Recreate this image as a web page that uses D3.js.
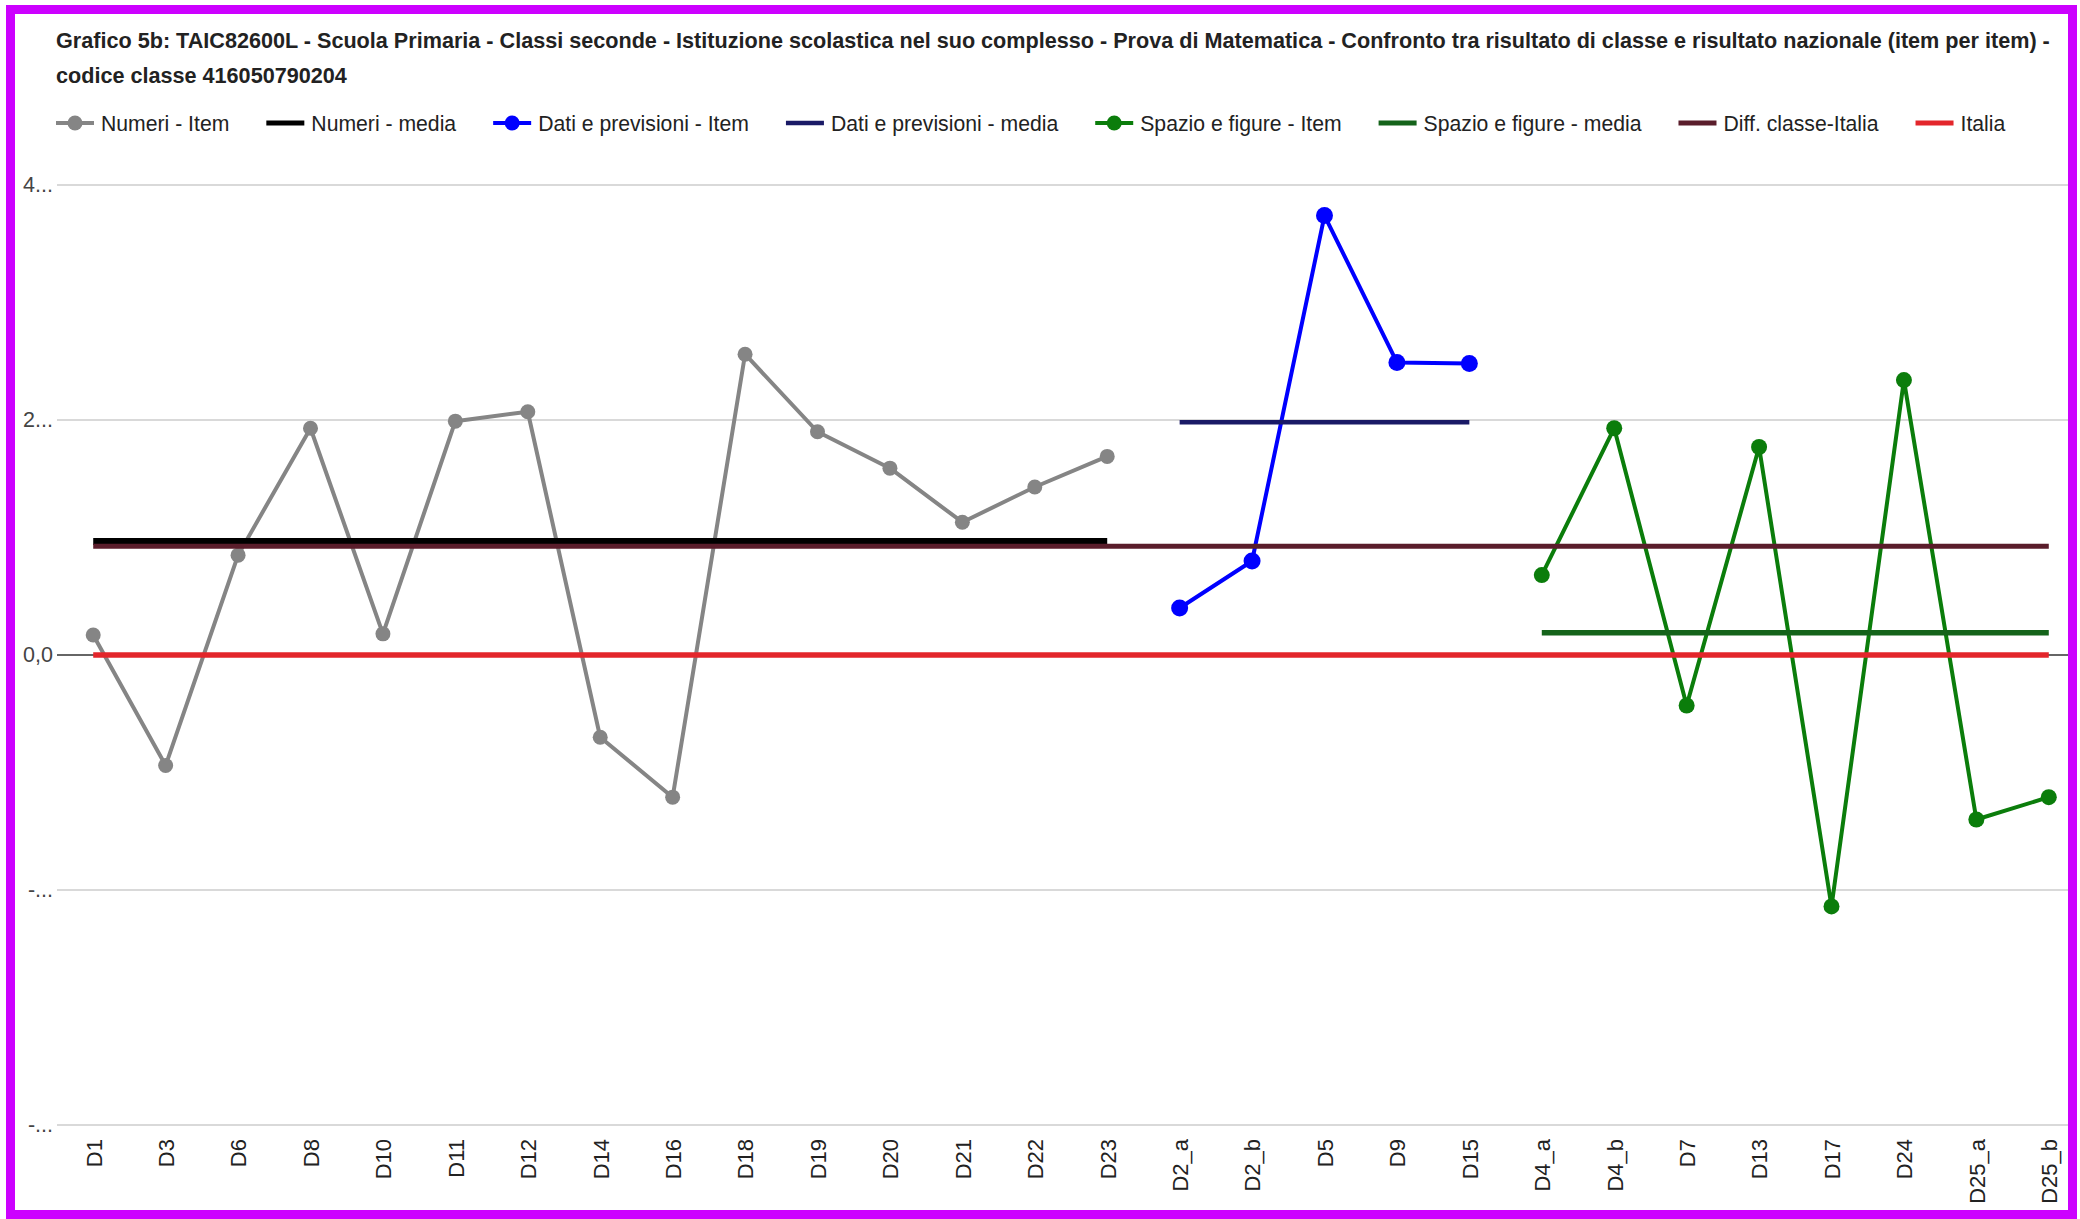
<!DOCTYPE html>
<html><head><meta charset="utf-8">
<script src="https://cdn.jsdelivr.net/npm/d3@7"></script>
<style>
html,body{margin:0;padding:0;background:#fff;}
svg{display:block;}
text{font-family:"Liberation Sans", Arial, sans-serif;}
</style></head><body>
<svg id="chart" width="2080" height="1219"></svg>
<script>
// ---------- DATA ----------
const numeriItems = ["D1","D3","D6","D8","D10","D11","D12","D14","D16","D18","D19","D20","D21","D22","D23"];
const numeriValues = [0.17,-0.94,0.85,1.93,0.18,1.99,2.07,-0.70,-1.21,2.56,1.90,1.59,1.13,1.43,1.69];
const numeriMedia = 0.965;

const datiItems = ["D2_a","D2_b","D5","D9","D15"];
const datiValues = [0.40,0.80,3.74,2.49,2.48];
const datiMedia = 1.98;

const spazioItems = ["D4_a","D4_b","D7","D13","D17","D24","D25_a","D25_b"];
const spazioValues = [0.68,1.93,-0.43,1.77,-2.14,2.34,-1.40,-1.21];
const spazioMedia = 0.19;

const diffClasseItalia = 0.925;
const italia = 0;

const categories = [...numeriItems, ...datiItems, ...spazioItems];
const yTickValues = [-4,-2,0,2,4];
const yTickLabels = ["-...","-...","0,0","2...","4..."];

const titleLines = [
  "Grafico 5b: TAIC82600L - Scuola Primaria - Classi seconde - Istituzione scolastica nel suo complesso - Prova di Matematica - Confronto tra risultato di classe e risultato nazionale (item per item) -",
  "codice classe 416050790204"
];
const legendLabels = ["Numeri - Item","Numeri - media","Dati e previsioni - Item","Dati e previsioni - media","Spazio e figure - Item","Spazio e figure - media","Diff. classe-Italia","Italia"];

// ---------- SERIES (built from the arrays above) ----------
const series = [
  {name:legendLabels[0], cats:numeriItems, vals:numeriValues, color:"#858585", w:4, r:7.5},
  {name:legendLabels[1], cats:numeriItems, vals:numeriItems.map(()=>numeriMedia), color:"#000000", w:7},
  {name:legendLabels[2], cats:datiItems, vals:datiValues, color:"#0000ff", w:4, r:8.5},
  {name:legendLabels[3], cats:datiItems, vals:datiItems.map(()=>datiMedia), color:"#1a1a66", w:4.5},
  {name:legendLabels[4], cats:spazioItems, vals:spazioValues, color:"#0b7d0b", w:4, r:8},
  {name:legendLabels[5], cats:spazioItems, vals:spazioItems.map(()=>spazioMedia), color:"#14631a", w:5.5},
  {name:legendLabels[6], cats:categories, vals:categories.map(()=>diffClasseItalia), color:"#5a1d2b", w:5},
  {name:legendLabels[7], cats:categories, vals:categories.map(()=>italia), color:"#e3262b", w:5.5}
];

// ---------- LAYOUT ----------
const W = 2080, H = 1219;
const plot = {left:57, right:2085, top:185, bottom:1125, clipRight:2068};
const svg = d3.select("#chart");

const x = d3.scalePoint().domain(categories).range([plot.left, plot.right]).padding(0.5);
const y = d3.scaleLinear().domain([-4,4]).range([plot.bottom, plot.top]);

svg.append("defs").append("clipPath").attr("id","plotclip")
  .append("rect").attr("x",0).attr("y",0).attr("width",plot.clipRight).attr("height",H);

// Title: font size chosen so that the first line fills the available width
const titleTargetWidth = 1995;
const tg = svg.append("g");
const t0 = tg.append("text").attr("font-size",22).attr("font-weight","bold").text(titleLines[0]);
const titleSize = 22 * titleTargetWidth / t0.node().getComputedTextLength();
t0.remove();
tg.selectAll("text").data(titleLines).join("text")
  .attr("x",56).attr("y",(d,i)=>48+i*35)
  .attr("font-size",titleSize).attr("font-weight","bold").attr("fill","#222")
  .text(d=>d);

// Legend
const lg = svg.append("g");
let lx = 56; const ly = 123;
series.forEach(s=>{
  const g = lg.append("g");
  g.append("line").attr("x1",lx).attr("x2",lx+38).attr("y1",ly).attr("y2",ly)
    .attr("stroke",s.color).attr("stroke-width",Math.min(s.w,5));
  if (s.r) g.append("circle").attr("cx",lx+19).attr("cy",ly).attr("r",7.5).attr("fill",s.color);
  const t = g.append("text").attr("x",lx+45).attr("y",ly).attr("dy","0.36em")
    .attr("font-size",21.2).attr("fill","#222").text(s.name);
  lx += 45 + t.node().getComputedTextLength() + 37;
});

const pg = svg.append("g").attr("clip-path","url(#plotclip)");

// Gridlines
const gridTicks = yTickValues.filter(v=>v!==0);
pg.append("g").selectAll("line").data(gridTicks).join("line")
  .attr("x1",plot.left).attr("x2",plot.right)
  .attr("y1",d=>y(d)).attr("y2",d=>y(d))
  .attr("stroke","#cccccc").attr("stroke-width",1.5);
// Baseline
pg.append("line").attr("x1",plot.left).attr("x2",plot.right)
  .attr("y1",y(0)).attr("y2",y(0)).attr("stroke","#333").attr("stroke-width",1.5);

// Y axis labels
const yAxis = d3.axisLeft(y).tickValues(yTickValues)
  .tickFormat((d,i)=>yTickLabels[i]).tickSize(0).tickPadding(0);
const ya = svg.append("g").attr("transform",`translate(${plot.left-4},0)`).call(yAxis);
ya.select(".domain").remove();
ya.selectAll("text").attr("font-size",21.5).attr("fill","#444")
  .attr("font-family","Liberation Sans, Arial, sans-serif");

// X axis labels (rotated)
const xAxis = d3.axisBottom(x).tickSize(0).tickPadding(0);
const xa = svg.append("g").attr("transform",`translate(0,1139)`).call(xAxis);
xa.select(".domain").remove();
xa.selectAll("text").attr("font-size",22).attr("fill","#222")
  .attr("font-family","Liberation Sans, Arial, sans-serif")
  .attr("transform","rotate(-90)").attr("text-anchor","end")
  .attr("x",0).attr("y",0).attr("dy","0.36em");

// Series
const line = d3.line().x(d=>x(d.c)).y(d=>y(d.v));
series.forEach(s=>{
  const pts = s.cats.map((c,i)=>({c, v:s.vals[i]}));
  pg.append("path").datum(pts).attr("d",line).attr("fill","none")
    .attr("stroke",s.color).attr("stroke-width",s.w).attr("stroke-linejoin","round");
  if (s.r) pg.append("g").selectAll("circle").data(pts).join("circle")
    .attr("cx",d=>x(d.c)).attr("cy",d=>y(d.v)).attr("r",s.r).attr("fill",s.color);
});

// Frame
svg.append("rect").attr("x",10.5).attr("y",9.5).attr("width",2062).attr("height",1205)
  .attr("fill","none").attr("stroke","#cc00ff").attr("stroke-width",9);
</script>
</body></html>
